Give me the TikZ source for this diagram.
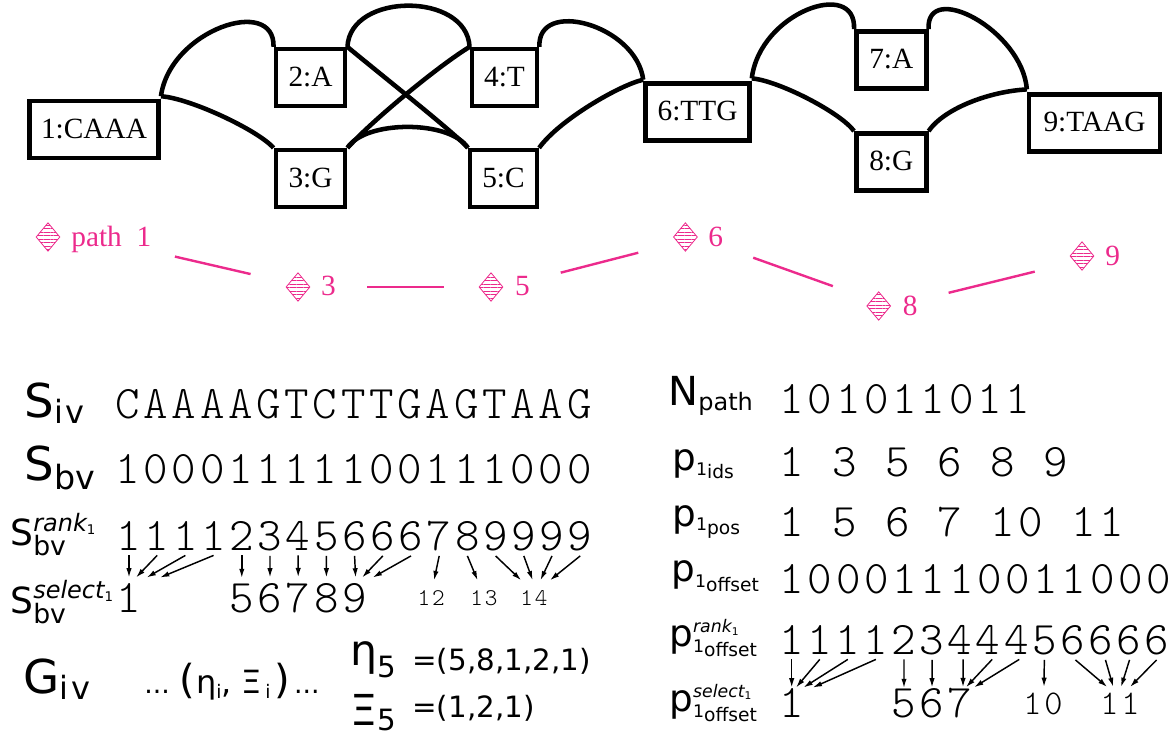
\documentclass[tikz,border=0pt]{standalone}
\usepackage{fontspec}
\setmainfont{Liberation Serif}
\setsansfont{DejaVu Sans}
\newfontfamily\seqfont[LetterSpace=8]{Latin Modern Mono Light}
\newfontfamily\digitfont{Latin Modern Mono Light}
\usetikzlibrary{arrows.meta, patterns.meta, shapes.geometric}
\definecolor{pathpink}{HTML}{EC2A8C}
\newcommand{\fsz}[1]{\fontsize{#1}{#1}\selectfont}
\newcommand{\lowered}[3]{\raisebox{#1}{\fsz{#2}#3}}
\newcommand{\poneup}[4]{\fsz{28pt}p\rlap{\raisebox{#1}{\fsz{13pt}\itshape #2\lowered{-2pt}{8pt}{\upshape 1}}}\lowered{-5pt}{13pt}{1}\lowered{#3}{14pt}{#4}}

\begin{document}
\begin{tikzpicture}[x=0.75pt, y=-0.75pt, semithick,
            vertex/.style ={draw, line width=3.4pt, inner sep=0pt, font=\fsz{22pt}, text height=15pt, text depth=1.5pt},
            edge/.style ={line width=3.4pt},
            stopmark/.style ={diamond, draw=pathpink, line width=0.6pt, inner sep=0pt, minimum width=18pt, minimum height=21.5pt,
            pattern={Lines[angle=0, distance=2.6pt, line width=0.7pt]}, pattern color=pathpink},
            stoptext/.style ={anchor=base west, inner sep=0pt, text=pathpink, font=\fsz{22pt}},
            stoplink/.style ={draw=pathpink, line width=1.8pt, shorten <=54pt, shorten >=36.5pt},
            sym/.style ={anchor=base west, inner sep=0pt, font=\sffamily},
            seq/.style ={anchor=base west, inner sep=0pt, font=\seqfont\fsz{35pt}},
            digit/.style ={anchor=base, inner xsep=0pt, inner ysep=3.75pt, font=\digitfont\fsz{35pt}},
            tiny digit/.style ={digit, inner ysep=7pt, font=\seqfont\fsz{18pt}},
            mid digit/.style ={digit, font=\seqfont\fsz{26pt}},
            index/.style ={line width=1.1pt, -{Latex[length=7pt, width=4pt]}}]

        \useasboundingbox (0,0) rectangle (1175,735);

        % graph
        \node[vertex, minimum width=97pt, minimum height=42.5pt] (n1) at (94,129.5) {1:CAAA};
        \node[vertex, minimum width=52pt, minimum height=42.5pt] (n2) at (310.5,77.5) {2:A};
        \node[vertex, minimum width=52pt, minimum height=42.5pt] (n3) at (310.5,178.5) {3:G};
        \node[vertex, minimum width=49pt, minimum height=42.5pt] (n4) at (504.5,77.5) {4:T};
        \node[vertex, minimum width=50pt, minimum height=42.5pt] (n5) at (503.5,178.5) {5:C};
        \node[vertex, minimum width=78pt, minimum height=43pt] (n6) at (697.5,112) {6:TTG};
        \node[vertex, minimum width=52.5pt, minimum height=43pt] (n7) at (891.3,60) {7:A};
        \node[vertex, minimum width=52.5pt, minimum height=43pt] (n8) at (891.3,162) {8:G};
        \node[vertex, minimum width=98pt, minimum height=43pt] (n9) at (1094.5,123) {9:TAAG};

        \draw[edge] ([yshift=2pt]n1.north east) .. controls +(9,-66) and +(1.4,-52) .. (n2.north west);
        \draw[edge] ([yshift=2pt]n1.north east) .. controls +(29,2) and +(-16,-18) .. (n3.north west);
        \draw[edge] (n2.north east) .. controls +(2.5,-55) and +(-2.6,-55) .. (n4.north west);
        \draw[edge] (n2.north east) .. controls +(30,25) and +(-12,-14) .. (n5.north west);
        \draw[edge] (n3.north east) .. controls +(17.5,-28) and +(-17.7,-28) .. (n5.north west);
        \draw[edge] (n4.north west) .. controls +(-29.6,18) and +(27.5,-30) .. (n3.north east);
        \draw[edge] (n4.north east) .. controls +(-2.6,-49) and +(-7,-55) .. ([yshift=1pt]n6.north west);
        \draw[edge] (n5.north east) .. controls +(20,-28) and +(-23,5) .. ([yshift=1pt]n6.north west);
        \draw[edge] ([yshift=2pt]n6.north east) .. controls +(8,-66) and +(2.5,-51) .. (n7.north west);
        \draw[edge] ([yshift=2pt]n6.north east) .. controls +(26,2) and +(-14,-19) .. (n8.north west);
        \draw[edge] (n7.north east) .. controls +(-2.6,-49) and +(-5,-60) .. ([yshift=2pt]n9.north west);
        \draw[edge] (n8.north east) .. controls +(16,-23) and +(-37,2) .. ([yshift=2pt]n9.north west);

        % path 1
        \node[stopmark] (d1) at (48,237) {};
        \node[stopmark] (d3) at (298,287) {};
        \node[stopmark] (d5) at (491,287) {};
        \node[stopmark] (d6) at (685.4,237) {};
        \node[stopmark] (d8) at (878.7,306) {};
        \node[stopmark] (d9) at (1082,256) {};
        \node[stoptext] (t1) at (71,246) {path\ \ 1};
        \node[stoptext] (t3) at (320.7,295) {3};
        \node[stoptext] (t5) at (514.7,295) {5};
        \node[stoptext] (t6) at (708,246) {6};
        \node[stoptext] (t8) at (902.5,315) {8};
        \node[stoptext] (t9) at (1105,265) {9};

        \draw[stoplink, shorten <=97.7pt] ([shift={(0,-9.7)}]d1.center) -- ([shift={(0,-2)}]d3.center);
        \draw[stoplink, shorten <=52pt, shorten >=35.2pt] (d3.center) -- (d5.center);
        \draw[stoplink] ([shift={(0,3.6)}]d5.center) -- ([shift={(0,3.6)}]d6.center);
        \draw[stoplink] ([shift={(0,-3.5)}]d6.center) -- ([shift={(0,-3.5)}]d8.center);
        \draw[stoplink] ([shift={(0,4)}]d8.center) -- ([shift={(0,4)}]d9.center);

        % left rows
        \node[sym] (Siv) at (24,417) {\fsz{35pt}S\lowered{-5pt}{24pt}{i\hspace{2pt}v}};
        \node[sym] (Sbv) at (24,480) {\fsz{35pt}S\lowered{-7pt}{25pt}{bv}};
        \node[sym] (Srank) at (10,545) {\fsz{27pt}S\rlap{\raisebox{10pt}{\fsz{18pt}\itshape rank\lowered{-2pt}{10pt}{\upshape 1}}}\lowered{-8pt}{20pt}{bv}};
        \node[sym] (Sselect) at (10,613) {\fsz{27pt}S\rlap{\raisebox{11pt}{\fsz{18pt}\itshape select\lowered{-2pt}{10pt}{\upshape 1}}}\lowered{-8pt}{20pt}{bv}};
        \node[sym] (Giv) at (23,693) {\fsz{35pt}G\lowered{-5pt}{24pt}{i\hspace{2pt}v}};

        \node[seq] (iv) at (115,418) {CAAAAGTCTTGAGTAAG};
        \node[seq] (bv) at (115,483) {10001111100111000};

        \foreach \c [count=\i] in {1,1,1,1,2,3,4,5,6,6,6,7,8,9,9,9,9}
            \node[digit] (rb\i) at ({129+(\i-1)*28.2},550) {\c};
        \node[digit] (sb1) at (129,612) {1};
        \node[digit] (sb5) at (241.8,612) {5};
        \node[digit] (sb6) at (270,612) {6};
        \node[digit] (sb7) at (298.2,612) {7};
        \node[digit] (sb8) at (326.4,612) {8};
        \node[digit] (sb9) at (354.6,612) {9};
        \node[tiny digit] (sb12) at (431.3,605) {12};
        \node[tiny digit] (sb13) at (484,605) {13};
        \node[tiny digit] (sb14) at (533.9,605) {14};

        \foreach \a/\b/\d in {1/1/0, 2/1/7, 3/1/17.5, 4/1/31, 5/5/0, 6/6/0, 7/7/0, 8/8/0, 9/9/1, 10/9/7.5, 11/9/18,
                12/12/2.7, 13/13/-6.4, 14/14/-12.7, 15/14/-1.2, 16/14/6.5, 17/14/16}
            \draw[index] (rb\a.south) -- ([shift={(\d,0)}]sb\b.north);

        \node[sym] (dots) at (144,693) {\fsz{20pt}...\hspace{7pt}\fsz{30pt}(\hspace{1pt}\fsz{24pt}η\lowered{-4pt}{14pt}{i},\hspace{7pt}Ξ\hspace{3pt}\lowered{-4pt}{14pt}{i}\hspace{3pt}\fsz{30pt})\hspace{3pt}\fsz{20pt}...};
        \node[sym] (eta) at (350,665) {\fsz{32pt}η\lowered{-9pt}{22pt}{5}};
        \node[sym] (xi) at (350,725) {\fsz{32pt}Ξ\lowered{-4pt}{22pt}{5}};
        \node[sym] (etaval) at (412,670) {\fsz{22pt}=(5,8,1,2,1)};
        \node[sym] (xival) at (412,717) {\fsz{22pt}=(1,2,1)};

        % right rows
        \node[sym] (Npath) at (668,405) {\fsz{30pt}N\lowered{-4pt}{18pt}{path}};
        \node[sym] (pids) at (672,470) {\fsz{28pt}p\lowered{-4pt}{13pt}{1}\lowered{-6pt}{14pt}{ids}};
        \node[sym] (ppos) at (672,526) {\fsz{28pt}p\lowered{-3pt}{13pt}{1}\lowered{-6pt}{14pt}{pos}};
        \node[sym] (poffset) at (671,581) {\fsz{28pt}p\lowered{-4.5pt}{13pt}{1}\lowered{-7.5pt}{14pt}{offset}};
        \node[sym] (prank) at (669,646) {\poneup{10pt}{rank}{-8pt}{offset}};
        \node[sym] (pselect) at (669,711) {\poneup{10.5pt}{select}{-8pt}{offset}};

        \node[seq] (npathseq) at (779.3,413) {101011011};
        \node[seq] (idsseq) at (779.3,476) {1 3 5 6 8 9};
        \node[seq] (posseq) at (779.3,536) {1 5 6 7 10 11};
        \node[seq] (offsetseq) at (779.3,593) {10001110011000};

        \foreach \c [count=\i] in {1,1,1,1,2,3,4,4,4,5,6,6,6,6}
            \node[digit] (ro\i) at ({791.7+(\i-1)*28.07},654) {\c};
        \node[digit, inner ysep=0pt] (so1) at (791.7,717) {1};
        \node[digit, inner ysep=0pt] (so5) at (904,717) {5};
        \node[digit, inner ysep=0pt] (so6) at (932,717) {6};
        \node[digit, inner ysep=0pt] (so7) at (960,717) {7};
        \node[mid digit] (so10) at (1043,714) {10};
        \node[mid digit] (so11) at (1120,714) {11};

        \foreach \a/\b/\d/\e in {1/1/0/0, 2/1/0/4.3, 3/1/0/11.7, 4/1/0/21, 5/5/0/0, 6/6/0/0, 7/7/3/3, 8/7/4/6, 9/7/3/14,
                10/10/0/1, 11/11/3/-12.7, 12/11/5/-6.7, 13/11/1/1, 14/11/0/10}
            \draw[index] ([shift={(\d,0)}]ro\a.south) -- ([shift={(\e,0)}]so\b.north);
\end{tikzpicture}
\end{document}
